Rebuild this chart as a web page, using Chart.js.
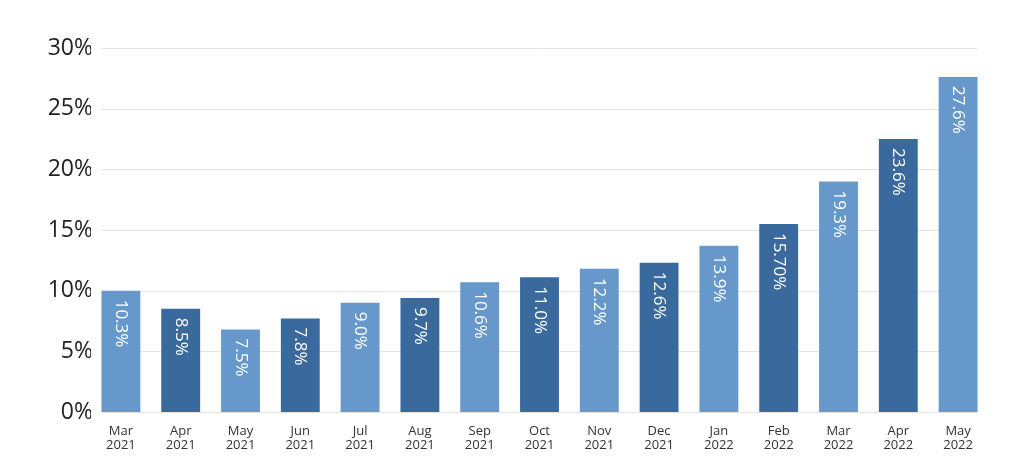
<!DOCTYPE html>
<html>
<head>
<meta charset="utf-8">
<script src="https://cdn.jsdelivr.net/npm/chart.js@4/dist/chart.umd.min.js"></script>
<style>
  html, body { margin: 0; padding: 0; background: #fff; }
  #wrap { width: 1024px; height: 476px; }
</style>
</head>
<body>
<div id="wrap"><canvas id="myChart" width="1024" height="476"></canvas></div>
<script>
const months = [
  ["Mar", "2021"], ["Apr", "2021"], ["May", "2021"], ["Jun", "2021"], ["Jul", "2021"],
  ["Aug", "2021"], ["Sep", "2021"], ["Oct", "2021"], ["Nov", "2021"], ["Dec", "2021"],
  ["Jan", "2022"], ["Feb", "2022"], ["Mar", "2022"], ["Apr", "2022"], ["May", "2022"]
]
// bar heights as drawn (they don't always match the printed label)
const barValues = [10.0, 8.5, 6.8, 7.7, 9.0, 9.4, 10.7, 11.1, 11.8, 12.3, 13.7, 15.5, 19.0, 22.5, 27.6]
const barLabels = ["10.3%", "8.5%", "7.5%", "7.8%", "9.0%", "9.7%", "10.6%", "11.0%", "12.2%", "12.6%",
  "13.9%", "15.70%", "19.3%", "23.6%", "27.6%"]
const yTicks = [0, 5, 10, 15, 20, 25, 30]

const lightBlue = "#6698cc"
const darkBlue = "#3a6a9d"
const fontFamily = "'Open Sans', 'Noto Sans', sans-serif"

const barColors = barValues.map((v, i) => i % 2 == 0 ? lightBlue : darkBlue)

// gridlines only span the bars, like the original
const gridPlugin = {
  id: "gridLines",
  beforeDatasetsDraw(chart) {
    const ctx = chart.ctx
    const bars = chart.getDatasetMeta(0).data
    const first = bars[0], last = bars[bars.length - 1]
    const x1 = first.x - first.width / 2
    const x2 = last.x + last.width / 2
    const yScale = chart.scales.y
    ctx.save()
    ctx.strokeStyle = "#e4e4e4"
    ctx.lineWidth = 1
    yTicks.forEach(t => {
      const y = Math.round(yScale.getPixelForValue(t)) + 0.5
      ctx.beginPath()
      ctx.moveTo(x1, y)
      ctx.lineTo(x2, y)
      ctx.stroke()
    })
    ctx.restore()
  }
}

const labelPlugin = {
  id: "barText",
  afterDatasetsDraw(chart) {
    const ctx = chart.ctx
    const bars = chart.getDatasetMeta(0).data
    ctx.save()
    ctx.fillStyle = "#ffffff"
    ctx.font = "17px " + fontFamily
    bars.forEach((bar, i) => {
      ctx.save()
      ctx.translate(bar.x, bar.y + 9)
      ctx.rotate(Math.PI / 2)
      ctx.textAlign = "left"
      ctx.textBaseline = "middle"
      ctx.fillText(barLabels[i], 0, 0)
      ctx.restore()
    })
    ctx.restore()
  }
}

const ctx = document.getElementById("myChart").getContext("2d")
new Chart(ctx, {
  type: "bar",
  data: {
    labels: months,
    datasets: [
      {
        data: barValues,
        backgroundColor: barColors,
        borderWidth: 0,
        barPercentage: 0.65,
        categoryPercentage: 1.0
      }
    ]
  },
  options: {
    responsive: false,
    animation: false,
    layout: { padding: { top: 48, right: 36, left: 0, bottom: 0 } },
    plugins: {
      legend: { display: false },
      tooltip: { enabled: false }
    },
    scales: {
      x: {
        grid: { display: false, drawTicks: false },
        border: { display: false },
        ticks: {
          color: "#333",
          padding: 12,
          maxRotation: 0,
          autoSkip: false,
          font: { family: fontFamily, size: 13, lineHeight: 1.1 }
        },
        afterFit(scale) { scale.height = 64 }
      },
      y: {
        min: 0,
        max: 30,
        afterBuildTicks(scale) { scale.ticks = yTicks.map(v => ({ value: v })) },
        grid: { display: false, drawTicks: false },
        border: { display: false },
        ticks: {
          color: "#222",
          padding: -2,
          font: { family: fontFamily, size: 23 },
          callback: v => v + "%"
        },
        afterFit(scale) { scale.width = 91 }
      }
    }
  },
  plugins: [gridPlugin, labelPlugin]
})
</script>
</body>
</html>
